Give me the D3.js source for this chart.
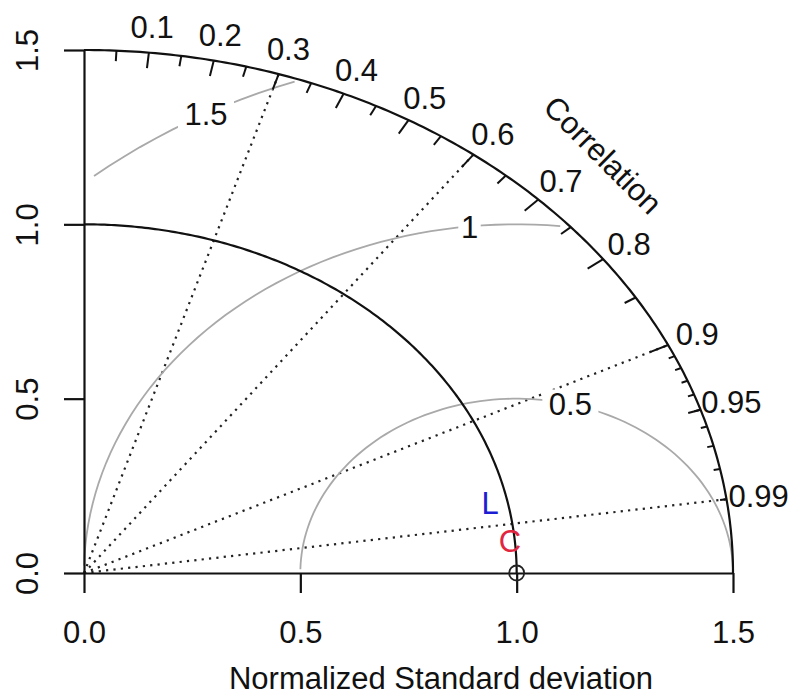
<!DOCTYPE html>
<html>
<head>
<meta charset="utf-8">
<script src="https://cdn.jsdelivr.net/npm/d3@7"></script>
<style>
  html, body { margin: 0; padding: 0; background: #fff; }
  svg text { font-family: "Liberation Sans", Arial, Helvetica, sans-serif; fill: #111; }
</style>
</head>
<body>
<svg id="chart" width="795" height="697"></svg>
<script>
// ---------------- data ----------------
const maxSD = 1.5;
const refSD = 1.0;
const sdTicks = [0, 0.5, 1.0, 1.5];
const sdTickLabels = ["0.0", "0.5", "1.0", "1.5"];
const corrMajorTicks = [0.1, 0.2, 0.3, 0.4, 0.5, 0.6, 0.7, 0.8, 0.9];
const corrMediumTicks = [0.05, 0.15, 0.25, 0.35, 0.45, 0.55, 0.65, 0.75, 0.85, 0.95];
const corrMinorTicks = [0.91, 0.92, 0.93, 0.94, 0.95, 0.96, 0.97, 0.98, 0.99];
const corrLabels = [0.1, 0.2, 0.3, 0.4, 0.5, 0.6, 0.7, 0.8, 0.9, 0.95, 0.99];
const corrLines = [0.3, 0.6, 0.9, 0.99];
const gammaLevels = [0.5, 1, 1.5];
const modelNames = ["L", "C"];
const modelSD = [0.960, 0.989];
const modelCorr = [0.978, 0.9957];
const modelColors = ["#1c1cd2", "#e3263f"];
const xTitle = "Normalized Standard deviation";
const corrTitle = "Correlation";

// ---------------- scales ----------------
const svg = d3.select("#chart");
const x = d3.scaleLinear().domain([0, maxSD]).range([84, 733]);
const y = d3.scaleLinear().domain([0, maxSD]).range([573, 50]);
const FS = 31;
const line = d3.line().x(d => x(d[0])).y(d => y(d[1]));
const polar = (r, c) => [r * c, r * Math.sqrt(Math.max(0, 1 - c * c))];
const arcPts = (r, t0, t1, n) => d3.range(n + 1).map(i => {
  const t = t0 + (t1 - t0) * i / n;
  return [r * Math.cos(t), r * Math.sin(t)];
});

// ---------- correlation dotted lines ----------
svg.append("g").selectAll("path").data(corrLines).join("path")
  .attr("d", c => line([[0, 0], polar(maxSD, c)]))
  .attr("fill", "none").attr("stroke", "#222").attr("stroke-width", 2.2)
  .attr("stroke-dasharray", "2.2,5.2");

// ---------- centred RMS (gamma) contours ----------
const gG = svg.append("g");
const tSeq = d3.range(0, Math.PI, 0.03);
const labelIdx = [45, 57.5, 70]; // R seq(45,70,length.out=3)
gammaLevels.forEach((g, gi) => {
  const xc = tSeq.map(t => Math.cos(t) * g + refSD);
  const yc = tSeq.map(t => Math.sin(t) * g);
  let endIdx = xc.findIndex(v => v < 0);
  endIdx = endIdx >= 0 ? endIdx - 1 : xc.length - 1;
  let startIdx = -1;
  xc.forEach((v, i) => { if (v * v + yc[i] * yc[i] > maxSD * maxSD) startIdx = i; });
  startIdx = startIdx + 1;
  const pts = [];
  for (let i = startIdx; i <= endIdx; i++) pts.push([xc[i], yc[i]]);
  gG.append("path").attr("d", line(pts)).attr("fill", "none")
    .attr("stroke", "#a9a9a9").attr("stroke-width", 1.8);
  const li = Math.floor(labelIdx[gi]) - 1;
  const lx = x(xc[li]), ly = y(yc[li]);
  const rect = gG.append("rect").attr("fill", "#fff");
  const txt = gG.append("text").attr("x", lx).attr("y", ly).attr("dy", "0.36em")
    .attr("text-anchor", "middle").attr("font-size", FS).text(String(g));
  const w = txt.node().getComputedTextLength() * 1.3;
  const h = FS * 0.95;
  rect.attr("x", lx - w / 2).attr("y", ly - h / 2).attr("width", w).attr("height", h);
});

// ---------- outer arc ----------
svg.append("path").attr("d", line(arcPts(maxSD, 0, Math.PI / 2, 200)))
  .attr("fill", "none").attr("stroke", "#111").attr("stroke-width", 2.2);

// ---------- axes ----------
const xAxis = svg.append("g").attr("transform", `translate(0,${y(0)})`)
  .call(d3.axisBottom(x).tickValues(sdTicks).tickSize(20).tickSizeOuter(0)
    .tickFormat((d, i) => sdTickLabels[i]));
xAxis.selectAll("path,line").attr("stroke", "#111").attr("stroke-width", 2.2);
xAxis.selectAll("text").attr("y", 70).attr("dy", 0).attr("font-size", FS)
  .attr("font-family", null).attr("fill", "#111");

const yAxis = svg.append("g").attr("transform", `translate(${x(0)},0)`)
  .call(d3.axisLeft(y).tickValues(sdTicks).tickSize(20).tickSizeOuter(0)
    .tickFormat((d, i) => sdTickLabels[i]));
yAxis.selectAll("path,line").attr("stroke", "#111").attr("stroke-width", 2.2);
yAxis.selectAll("text").attr("transform", "rotate(-90)").attr("x", 0).attr("y", -46)
  .attr("dy", 0).attr("text-anchor", "middle").attr("font-size", FS)
  .attr("font-family", null).attr("fill", "#111");
svg.selectAll(".domain").attr("stroke", "#111");
svg.selectAll(".tick text").attr("font-family", null);

// ---------- correlation ticks ----------
const tickSet = [[corrMajorTicks, 0.97], [corrMediumTicks, 0.98], [corrMinorTicks, 0.99]];
tickSet.forEach(([vals, f]) => {
  svg.append("g").selectAll("path").data(vals).join("path")
    .attr("d", c => line([polar(maxSD, c), polar(maxSD * f, c)]))
    .attr("stroke", "#111").attr("stroke-width", 2);
});

// ---------- reference sd arc & point ----------
svg.append("path").attr("d", line(arcPts(refSD, 0, Math.PI / 2, 200)))
  .attr("fill", "none").attr("stroke", "#111").attr("stroke-width", 2.2);
svg.append("circle").attr("cx", x(refSD)).attr("cy", y(0)).attr("r", 7.5)
  .attr("fill", "none").attr("stroke", "#222").attr("stroke-width", 1.8);

// ---------- correlation labels ----------
svg.append("g").selectAll("text").data(corrLabels).join("text")
  .attr("x", c => x(polar(maxSD * 1.05, c)[0]))
  .attr("y", c => y(polar(maxSD * 1.05, c)[1]))
  .attr("dy", "0.36em").attr("text-anchor", "middle").attr("font-size", FS)
  .text(c => String(c));

svg.append("text")
  .attr("transform", `translate(${x(maxSD * 0.8)},${y(maxSD * 0.8)}) rotate(45)`)
  .attr("dy", "0.36em").attr("text-anchor", "middle").attr("font-size", FS)
  .text(corrTitle);

// ---------- x title ----------
svg.append("text").attr("x", x(maxSD * 1.1 / 2)).attr("y", 689)
  .attr("text-anchor", "middle").attr("font-size", FS).text(xTitle);

// ---------- model points ----------
svg.append("g").selectAll("text").data(modelNames).join("text")
  .attr("x", (d, i) => x(modelSD[i] * modelCorr[i]))
  .attr("y", (d, i) => y(modelSD[i] * Math.sqrt(1 - modelCorr[i] * modelCorr[i])))
  .attr("dy", "0.36em").attr("text-anchor", "middle").attr("font-size", FS)
  .style("fill", (d, i) => modelColors[i])
  .text(d => d);
</script>
</body>
</html>
